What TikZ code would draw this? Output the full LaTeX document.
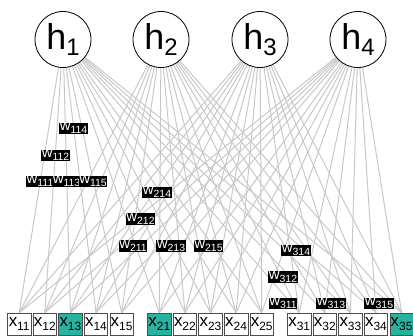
\documentclass[tikz,border=0pt]{standalone}
\usepackage{fontspec}
\setmainfont{Liberation Sans}
\pgfdeclarelayer{background}
\pgfsetlayers{background,main}
\definecolor{selfill}{RGB}{40,178,160}
\definecolor{edgegray}{RGB}{200,200,200}
\newcommand\mysub[3]{\raisebox{-#2}{\fontsize{#1}{#1}\selectfont #3}}
\begin{document}
\begin{tikzpicture}[x=1bp,y=-1bp,
  hnode/.style={circle, draw=black, line width=0.8bp, fill=white, minimum size=56bp, inner sep=0pt, font=\fontsize{36}{36}\selectfont},
  xbox/.style={draw=black!70, line width=0.6bp, fill=white, minimum width=23.5bp, minimum height=22bp, inner sep=0pt, font=\fontsize{17}{17}\selectfont},
  xsel/.style={xbox, fill=selfill},
  wlab/.style={fill=black, text=white, inner xsep=0.4bp, inner ysep=0.3bp, font=\fontsize{15}{15}\selectfont},
  edgeline/.style={draw=edgegray, line width=1bp}]
\useasboundingbox (0,0) rectangle (413,336);
% hidden nodes
\foreach \i/\cx in {1/63,2/161,3/260,4/358}
  \node[hnode] (h\i) at (\cx,39.5) {h\mysub{24}{6bp}{\i}};
% boxes
\foreach \g/\sx in {1/19.2,2/159.3,3/299.2}
  \foreach \k in {1,...,5}
    \node[xbox] (x\g\k) at ({\sx+25.6*(\k-1)},324) {x\mysub{12}{4bp}{\g\k}};
\node[xsel] at (x13) {x\mysub{12}{4bp}{13}};
\node[xsel] at (x21) {x\mysub{12}{4bp}{21}};
\node[xsel] at (x35) {x\mysub{12}{4bp}{35}};
% edges
\begin{pgfonlayer}{background}
\foreach \i in {1,...,4}
  \foreach \g in {1,2,3}
    \foreach \k in {1,...,5}
      \draw[edgeline] (h\i.center) -- (x\g\k.north);
\end{pgfonlayer}
% weight labels
\foreach \n/\px/\py in {114/73.5/128.5, 112/55.5/155.5, 111/40/181.5, 113/66.5/181.5, 115/93/181.5,
  214/157/192.5, 212/140.5/219, 211/133/246, 213/171/246, 215/208.5/246,
  314/296/250.5, 312/283/277, 311/283/303.5, 313/331/303.5, 315/379/303.5}
  \node[wlab] (w\n) at (\px,\py) {w\mysub{10.5}{3bp}{\n}};
\end{tikzpicture}
\end{document}
